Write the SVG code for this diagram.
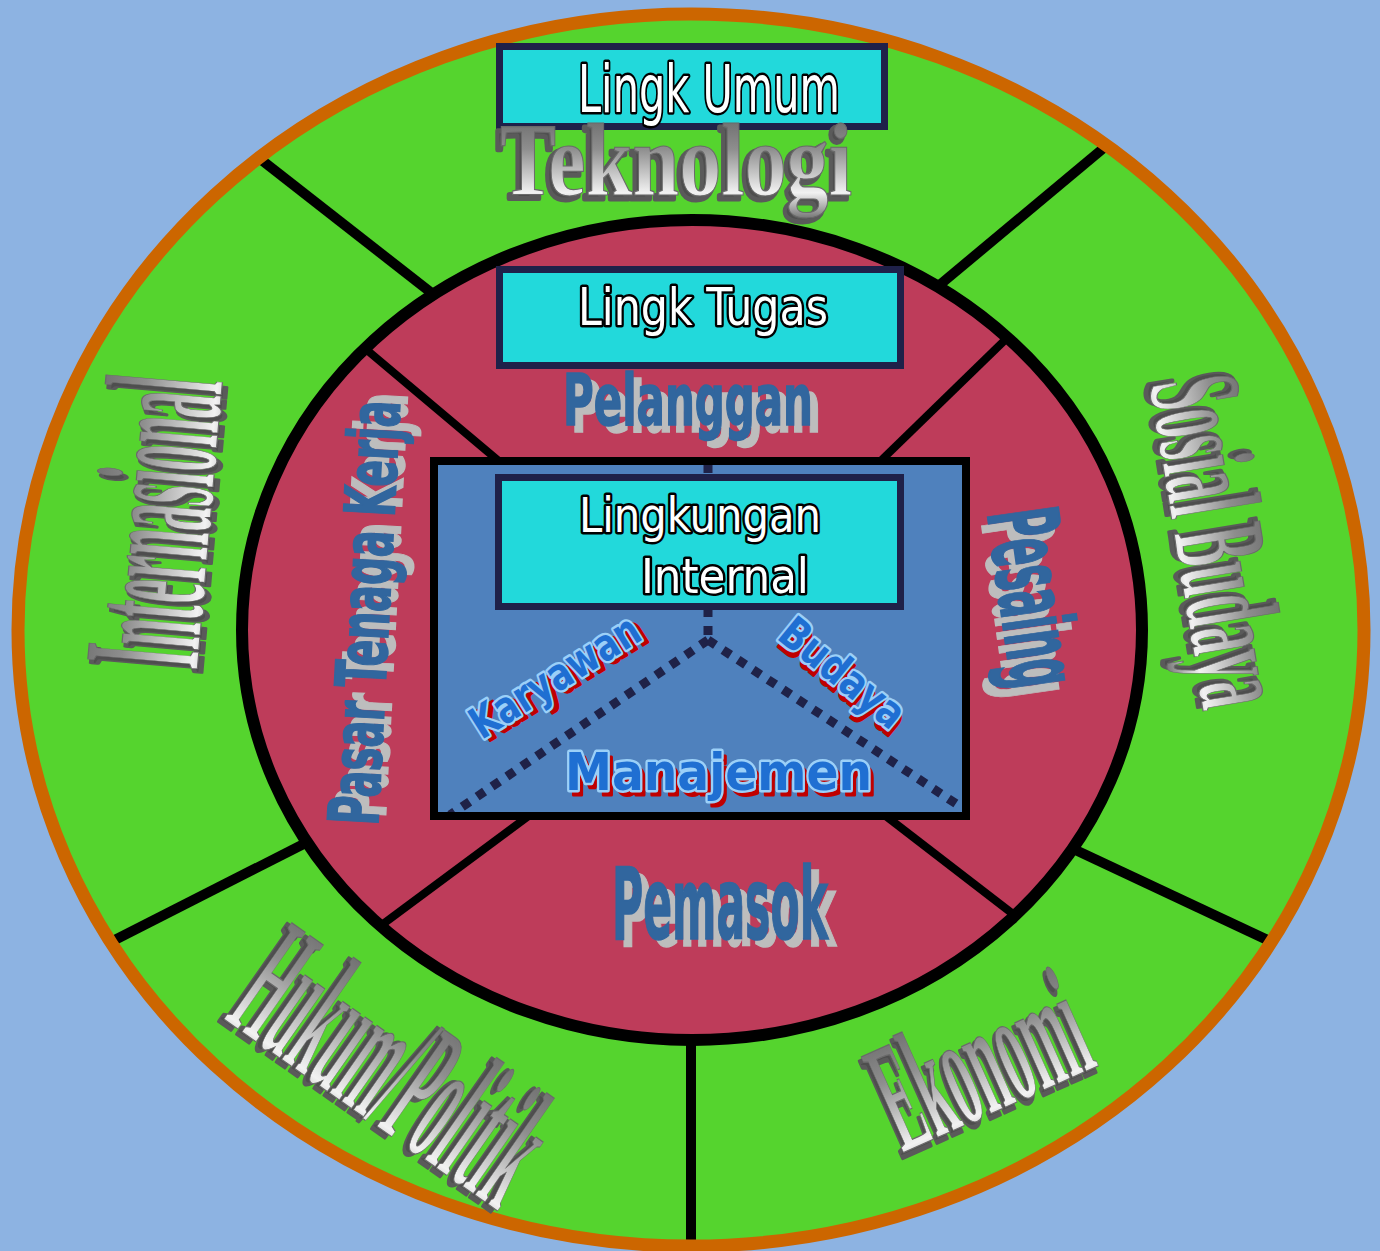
<svg xmlns="http://www.w3.org/2000/svg" width="1380" height="1251" viewBox="0 0 1380 1251">
<defs>
<style>
.bx{fill:#22D9DB;stroke:#1F2149;stroke-width:7}
.wt{fill:#fff;stroke:#000;stroke-width:5;stroke-linejoin:round;paint-order:stroke;font-family:"DejaVu Sans Condensed","DejaVu Sans",sans-serif;font-stretch:condensed}
.bl{font-family:"DejaVu Sans Condensed","DejaVu Sans",sans-serif;font-stretch:condensed;font-weight:bold}
.bf{fill:#31669E;stroke:#31669E;stroke-width:1.5}
.bs{fill:#BDBDBD;stroke:#BDBDBD;stroke-width:1.5}
.mt{font-family:"Liberation Serif","Times New Roman",serif;font-weight:bold}
.msh{fill:#4e4e4e;stroke:#5a5a5a;stroke-width:5;stroke-linejoin:round}
.mf{fill:url(#metal);stroke:#6a6a6a;stroke-width:1.2}
.sep{stroke:#000;stroke-width:10;fill:none}
.sep2{stroke:#000;stroke-width:8;fill:none}
.dot{stroke:#1F2248;stroke-width:9;stroke-dasharray:9 9;fill:none}
.it{font-family:"DejaVu Sans","Verdana",sans-serif;font-weight:bold}
.itr{fill:#C00000;stroke:#C00000;stroke-width:3;stroke-linejoin:round}
.itf{fill:#1F6FD2;stroke:#9BD0F8;stroke-width:5;stroke-linejoin:round;paint-order:stroke}
</style>
<linearGradient id="metal" x1="0" y1="0" x2="0" y2="1">
<stop offset="0" stop-color="#5e5e5e"/>
<stop offset="0.4" stop-color="#8e8e8e"/>
<stop offset="0.78" stop-color="#f2f2f2"/>
<stop offset="1" stop-color="#777777"/>
</linearGradient>
<clipPath id="co"><ellipse cx="691" cy="630" rx="673" ry="616"/></clipPath>
<clipPath id="ci"><ellipse cx="692" cy="630" rx="450" ry="410"/></clipPath>
</defs>
<rect x="0" y="0" width="1380" height="1251" fill="#8DB3E2"/>
<g id="outer-ring">
<ellipse cx="691" cy="630" rx="673" ry="616" fill="#55D42E"/>
</g>
<g id="connectors">
<g clip-path="url(#co)">
<line class="sep" x1="470" y1="323" x2="200" y2="112"/>
<line class="sep" x1="900" y1="318" x2="1160" y2="101"/>
<line class="sep" x1="345" y1="823" x2="40" y2="978"/>
<line class="sep" x1="1035" y1="831" x2="1340" y2="974"/>
<line class="sep" x1="691" y1="1000" x2="691" y2="1260"/>
</g>
</g>
<ellipse cx="691" cy="630" rx="673" ry="616" fill="none" stroke="#CC6600" stroke-width="13"/>
<g id="task-ring">
<ellipse cx="692" cy="630" rx="450" ry="410" fill="#BE3C5A"/>
</g>
<g id="inner-connectors" clip-path="url(#ci)">
<line class="sep2" x1="330" y1="319" x2="520" y2="479"/>
<line class="sep2" x1="1040" y1="306" x2="860" y2="481"/>
<line class="sep2" x1="348" y1="950" x2="550" y2="800"/>
<line class="sep2" x1="1048" y1="941" x2="865" y2="800"/>
</g>
<ellipse cx="692" cy="630" rx="450" ry="410" fill="none" stroke="#000" stroke-width="12"/>
<g id="internal-area">
<rect x="434" y="461" width="532" height="355" fill="#4F81BD"/>
<g id="dotted-links">
<line class="dot" x1="708" y1="464" x2="708" y2="640"/>
<line class="dot" x1="708" y1="640" x2="450" y2="815"/>
<line class="dot" x1="708" y1="640" x2="958" y2="805"/>
</g>
<rect x="434" y="461" width="532" height="355" fill="none" stroke="#000" stroke-width="8"/>
</g>
<g id="lingk-umum">
<rect class="bx" x="499.5" y="46.5" width="385" height="80"/>
<text class="wt" x="578" y="112" font-size="66" textLength="262" lengthAdjust="spacingAndGlyphs">Lingk Umum</text>
</g>
<g id="teknologi">
<text class="mt msh" x="496" y="199" font-size="103" textLength="352" lengthAdjust="spacingAndGlyphs">Teknologi</text>
<text class="mt mf" x="500" y="195" font-size="103" textLength="352" lengthAdjust="spacingAndGlyphs">Teknologi</text>
</g>
<g id="internasional" transform="translate(153,521) rotate(-85)">
<text class="mt msh" x="-4" y="61" font-size="168" text-anchor="middle" textLength="290" lengthAdjust="spacingAndGlyphs">Internasional</text>
<text class="mt mf" x="0" y="57" font-size="168" text-anchor="middle" textLength="290" lengthAdjust="spacingAndGlyphs">Internasional</text>
</g>
<g id="sosial-budaya" transform="translate(1208,543) rotate(80.7)">
<text class="mt msh" x="-4" y="36" font-size="132" text-anchor="middle" textLength="332" lengthAdjust="spacingAndGlyphs">Sosial Budaya</text>
<text class="mt mf" x="0" y="32" font-size="132" text-anchor="middle" textLength="332" lengthAdjust="spacingAndGlyphs">Sosial Budaya</text>
</g>
<g id="hukum-politik" transform="translate(396,1064) rotate(35)">
<text class="mt msh" x="-4" y="66" font-size="180" text-anchor="middle" textLength="335" lengthAdjust="spacingAndGlyphs">Hukum/Politik</text>
<text class="mt mf" x="0" y="62" font-size="180" text-anchor="middle" textLength="335" lengthAdjust="spacingAndGlyphs">Hukum/Politik</text>
</g>
<g id="ekonomi" transform="translate(979,1060) rotate(-24)">
<text class="mt msh" x="-4" y="58" font-size="160" text-anchor="middle" textLength="215" lengthAdjust="spacingAndGlyphs">Ekonomi</text>
<text class="mt mf" x="0" y="54" font-size="160" text-anchor="middle" textLength="215" lengthAdjust="spacingAndGlyphs">Ekonomi</text>
</g>
<g id="lingk-tugas">
<rect class="bx" x="499.5" y="269.5" width="401" height="96"/>
<text class="wt" x="578" y="325" font-size="51" textLength="250" lengthAdjust="spacingAndGlyphs">Lingk Tugas</text>
</g>
<g id="pelanggan">
<text class="bl bs" x="571" y="432" font-size="72" textLength="250" lengthAdjust="spacingAndGlyphs">Pelanggan</text>
<text class="bl bf" x="563" y="425" font-size="72" textLength="250" lengthAdjust="spacingAndGlyphs">Pelanggan</text>
</g>
<g id="pemasok">
<text class="bl bs" x="620" y="946" font-size="100" textLength="216" lengthAdjust="spacingAndGlyphs">Pemasok</text>
<text class="bl bf" x="612" y="939" font-size="100" textLength="216" lengthAdjust="spacingAndGlyphs">Pemasok</text>
</g>
<g id="pesaing" transform="translate(987,513) rotate(82)">
<text class="bl bs" x="8" y="7" font-size="98" textLength="180" lengthAdjust="spacingAndGlyphs">Pesaing</text>
<text class="bl bf" x="0" y="0" font-size="98" textLength="180" lengthAdjust="spacingAndGlyphs">Pesaing</text>
</g>
<g id="pasar-tenaga-kerja" transform="translate(378,826) rotate(-87)">
<text class="bl bs" x="8" y="7" font-size="70" textLength="425" lengthAdjust="spacingAndGlyphs">Pasar Tenaga Kerja</text>
<text class="bl bf" x="0" y="0" font-size="70" textLength="425" lengthAdjust="spacingAndGlyphs">Pasar Tenaga Kerja</text>
</g>
<g id="lingkungan-internal">
<rect class="bx" x="498.5" y="477.5" width="402" height="129"/>
<text class="wt" x="579" y="532" font-size="48" textLength="242" lengthAdjust="spacingAndGlyphs">Lingkungan</text>
<text class="wt" x="641" y="593" font-size="48" textLength="168" lengthAdjust="spacingAndGlyphs">Internal</text>
</g>
<g id="karyawan" transform="translate(557,680) rotate(-32)">
<text class="it itr" x="4" y="16" font-size="44" text-anchor="middle" textLength="192" lengthAdjust="spacingAndGlyphs">Karyawan</text>
<text class="it itf" x="0" y="11" font-size="44" text-anchor="middle" textLength="192" lengthAdjust="spacingAndGlyphs">Karyawan</text>
</g>
<g id="budaya" transform="translate(840,676) rotate(39)">
<text class="it itr" x="4" y="16" font-size="44" text-anchor="middle" textLength="148" lengthAdjust="spacingAndGlyphs">Budaya</text>
<text class="it itf" x="0" y="11" font-size="44" text-anchor="middle" textLength="148" lengthAdjust="spacingAndGlyphs">Budaya</text>
</g>
<g id="manajemen">
<text class="it itr" x="569" y="795" font-size="52" textLength="307" lengthAdjust="spacingAndGlyphs">Manajemen</text>
<text class="it itf" x="565" y="790" font-size="52" textLength="307" lengthAdjust="spacingAndGlyphs">Manajemen</text>
</g>
</svg>
